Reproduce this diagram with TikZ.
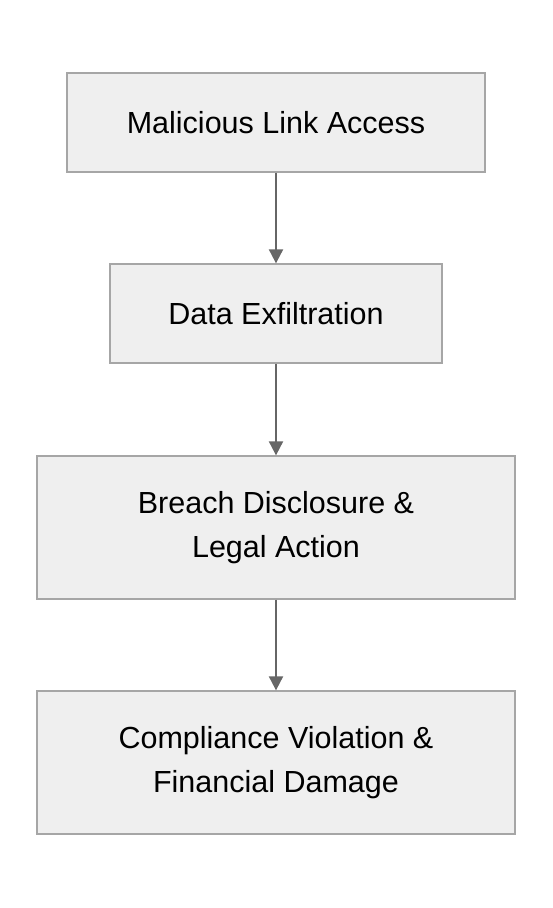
\documentclass[tikz,border=0pt]{standalone}
\usepackage{fontspec}
\setmainfont{Liberation Sans}
\usetikzlibrary{arrows.meta}
\definecolor{boxfill}{HTML}{EFEFEF}
\definecolor{boxdraw}{HTML}{A6A6A6}
\definecolor{arr}{HTML}{666666}
\begin{document}
\begin{tikzpicture}[x=1pt,y=-1pt,
  box/.style={draw=boxdraw, fill=boxfill, line width=1.3pt, inner sep=0pt, align=center,
    font=\fontsize{30.5}{44}\selectfont, text=black},
  conn/.style={draw=arr, line width=2pt, -{Triangle[width=14pt,length=14pt]}}]
\useasboundingbox (0,0) rectangle (552,908);
\node[box, minimum width=418pt, minimum height=99pt] (a) at (276,122.5) {Malicious Link Access};
\node[box, minimum width=332pt, minimum height=99pt] (b) at (276,313.5) {Data Exfiltration};
\node[box, minimum width=478pt, minimum height=143pt] (c) at (276,527.5) {Breach Disclosure \&\\Legal Action};
\node[box, minimum width=478pt, minimum height=143pt] (d) at (276,762.5) {Compliance Violation \&\\Financial Damage};
\draw[conn] (a) -- (b);
\draw[conn] (b) -- (c);
\draw[conn] (c) -- (d);
\end{tikzpicture}
\end{document}
